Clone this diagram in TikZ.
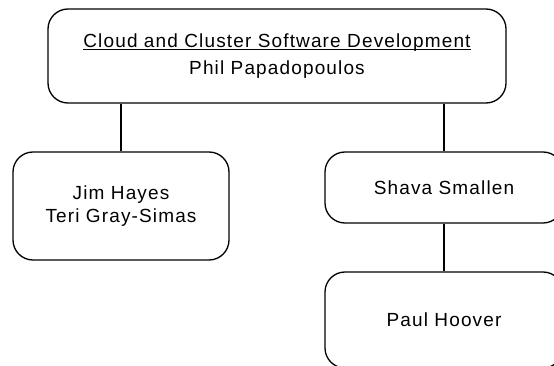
\documentclass[tikz,border=0pt]{standalone}
\usepackage{fontspec}
\setmainfont{Liberation Sans}[LetterSpace=6]
\usepackage{tikz}

\tikzset{
  member/.style={draw, line width=1.3pt, rounded corners=20pt, align=center,
    font={\fontsize{19}{23}\selectfont}, inner sep=0pt},
  branch/.style={line width=1.3pt}
}

\begin{document}
\begin{tikzpicture}[x=1pt,y=-1pt]
			\useasboundingbox (0,0) rectangle (554,366); % page size
			\clip (0,0) rectangle (554,366);
			\node[member, minimum width=458pt, minimum height=94pt] (lead) at (277,56)
				{\underline{\raisebox{0pt}[\height][0pt]{Cloud and Cluster Software Development}}\\[4pt]Phil Papadopoulos}; % draw head box
			\node[member, minimum width=216pt, minimum height=108pt] (left) at (121,206)
				{Jim Hayes\\Teri Gray-Simas}; % draw left group
			\node[member, minimum width=238pt, minimum height=71pt] (shava) at (444,187.5)
				{Shava Smallen}; % draw right group
			\node[member, minimum width=238pt, minimum height=96pt] (paul) at (444,320)
				{Paul Hoover}; % draw box below it
			\draw[branch] (lead.south -| left.north) -- (left.north); % line to left group
			\draw[branch] (lead.south -| shava.north) -- (shava.north); % line to right group
			\draw[branch] (shava.south) -- (paul.north); % line down
		\end{tikzpicture}
\end{document}
